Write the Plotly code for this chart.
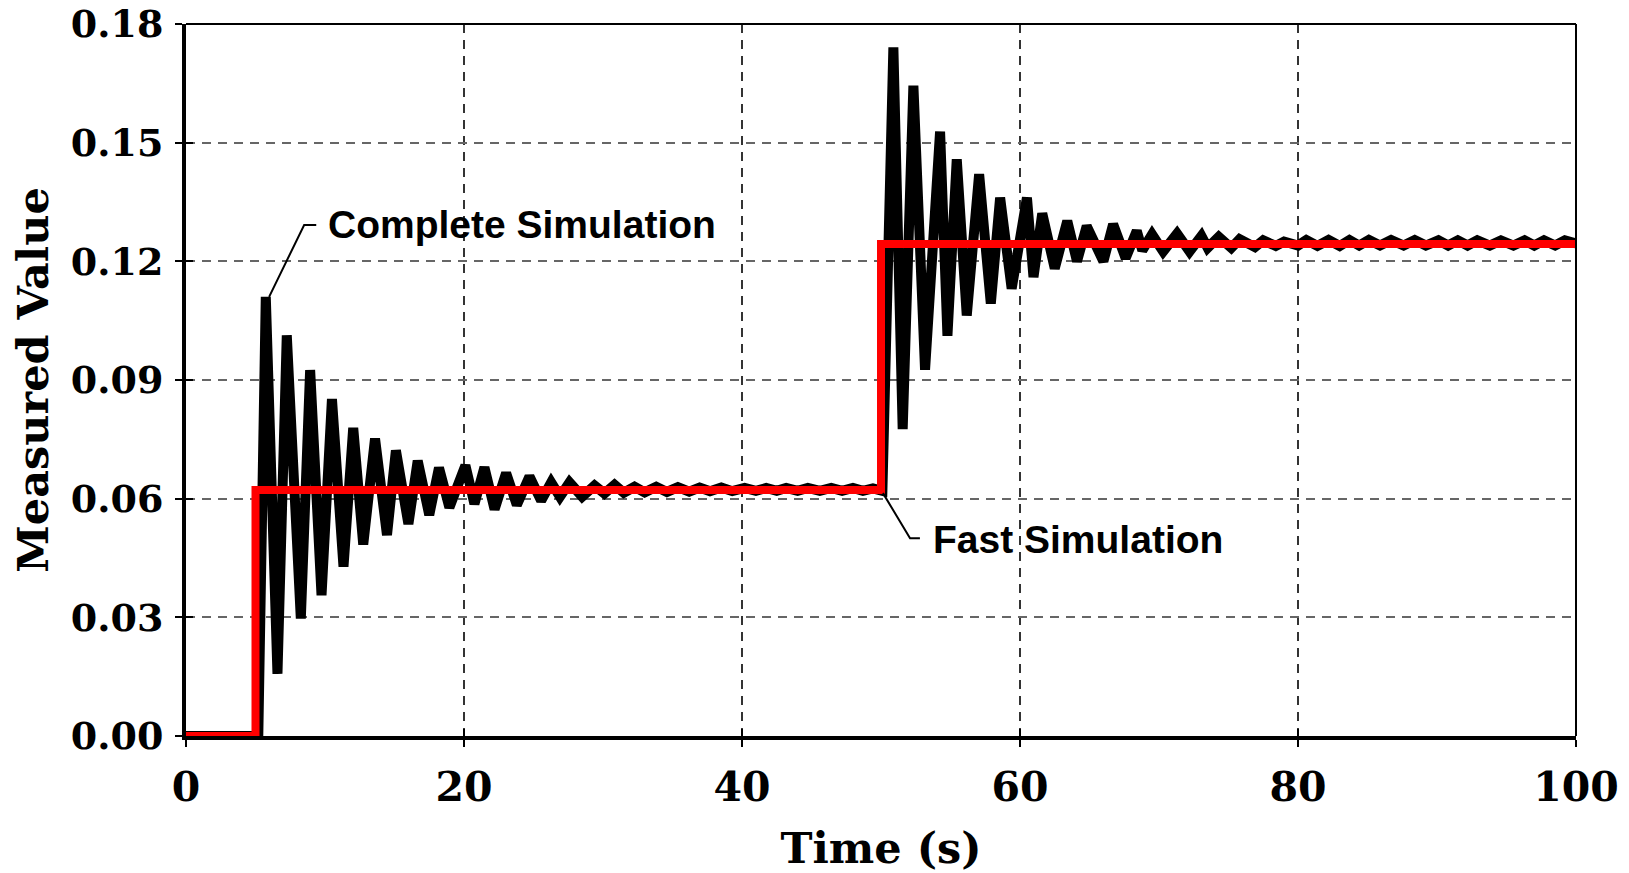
import plotly.graph_objects as go

# ---- data ----
complete_t = [0, 5.0, 5.2, 5.74, 6.58, 7.25, 8.26, 8.93, 9.75, 10.5, 11.33, 12.03, 12.75, 13.6, 14.46,
              15.1, 16.0, 16.67, 17.5, 18.2, 18.95, 20.1, 20.75, 21.47, 22.2, 23.03, 23.8, 24.71,
              25.55, 26.27, 26.9, 27.59, 28.5, 29.39, 30.1, 30.83, 31.5, 32.27, 33.0, 33.83, 34.6,
              35.39, 36.2, 36.95, 37.7, 38.51, 39.3, 40.19, 41.0, 41.74, 42.5, 43.18, 44.0, 44.74,
              45.6, 46.42, 47.2, 47.98, 48.7, 49.42, 50.1,
              50.89, 51.56, 52.33, 53.17, 54.25, 54.78, 55.45, 56.17, 57.06, 57.9, 58.57, 59.4,
              60.5, 60.97, 61.6, 62.5, 63.4, 64.1, 64.8, 66.0, 66.7, 67.6, 68.4, 68.8, 69.5, 70.3,
              71.3, 72.2, 73.05, 73.5, 74.3, 75.2, 75.8, 76.9, 77.5, 78.4, 79.0, 80.0, 80.6, 81.4,
              82.2, 83.0, 83.7, 84.4, 85.1, 85.9, 86.7, 87.6, 88.4, 89.2, 90.1, 90.8, 91.5, 92.2,
              92.9, 93.8, 94.6, 95.5, 96.3, 97.0, 97.7, 98.5, 99.2, 100.0]
complete_v = [0, 0, 0, 0.1110, 0.0157, 0.1013, 0.0297, 0.0925, 0.0356, 0.0852, 0.0428, 0.0779, 0.0484,
              0.0752, 0.0508, 0.0722, 0.0536, 0.0696, 0.0559, 0.0678, 0.0578, 0.0684, 0.0587, 0.0679,
              0.0573, 0.0665, 0.0584, 0.0656, 0.0595, 0.0641, 0.0605, 0.0641, 0.0605, 0.0633, 0.0613,
              0.0635, 0.0615, 0.0630, 0.0616, 0.0630, 0.0617, 0.0629, 0.0618, 0.0628, 0.0619, 0.0628,
              0.0619, 0.0627, 0.0620, 0.0627, 0.0620, 0.0627, 0.0620, 0.0627, 0.0620, 0.0627, 0.0620,
              0.0627, 0.0620, 0.0626, 0.0620,
              0.1741, 0.0776, 0.1644, 0.0926, 0.1528, 0.1012, 0.1458, 0.1063, 0.1420, 0.1093, 0.1361,
              0.1131, 0.1361, 0.1160, 0.1321, 0.1182, 0.1302, 0.1200, 0.1289, 0.1200, 0.1294, 0.1208,
              0.1277, 0.1228, 0.1268, 0.1225, 0.1270, 0.1225, 0.1264, 0.1234, 0.1262, 0.1234, 0.1256,
              0.1236, 0.1253, 0.1239, 0.1250, 0.1240, 0.1254, 0.1239, 0.1254, 0.1239, 0.1254, 0.1240,
              0.1254, 0.1240, 0.1254, 0.1240, 0.1254, 0.1240, 0.1253, 0.1240, 0.1253, 0.1240, 0.1253,
              0.1240, 0.1253, 0.1240, 0.1253, 0.1240, 0.1253, 0.1240, 0.1253, 0.1245]

fast_t = [0, 5, 50, 100]
fast_v = [0, 0.0622, 0.1244, 0.1244]

x_ticks = [0, 20, 40, 60, 80, 100]
y_ticks = [0.00, 0.03, 0.06, 0.09, 0.12, 0.15, 0.18]
y_tick_labels = ["0.00", "0.03", "0.06", "0.09", "0.12", "0.15", "0.18"]

# annotation anchors: (leader start, bend, end, text position)
complete_label = "Complete Simulation"
complete_leader_x = [5.98, 8.5, 9.37]
complete_leader_y = [0.1110, 0.1292, 0.1292]
complete_text_xy = (10.1, 0.1292)

fast_label = "Fast Simulation"
fast_leader_x = [50.14, 52.09, 52.8]
fast_leader_y = [0.0614, 0.0500, 0.0500]
fast_text_xy = (53.6, 0.0497)

SERIF = "DejaVu Serif"
SANS = "Liberation Sans, Arial"

fig = go.Figure()
fig.add_trace(go.Scatter(x=complete_t, y=complete_v, mode="lines",
                         line=dict(color="black", width=10), showlegend=False,
                         name="Complete Simulation"))
fig.add_trace(go.Scatter(x=fast_t, y=fast_v, mode="lines", line_shape="hv",
                         line=dict(color="#ff0000", width=8), showlegend=False,
                         name="Fast Simulation"))
# dummy trace for inner tick axes
fig.add_trace(go.Scatter(x=[None], y=[None], xaxis="x2", yaxis="y2", showlegend=False,
                         hoverinfo="skip"))

# leader lines
for lx, ly in [(complete_leader_x, complete_leader_y), (fast_leader_x, fast_leader_y)]:
    path = "M {} {} L {} {} L {} {}".format(lx[0], ly[0], lx[1], ly[1], lx[2], ly[2])
    fig.add_shape(type="path", path=path, xref="x", yref="y",
                  line=dict(color="black", width=2), layer="above")

fig.add_annotation(x=complete_text_xy[0], y=complete_text_xy[1], text="<b>" + complete_label + "</b>",
                   showarrow=False, xanchor="left", yanchor="middle",
                   font=dict(family=SANS, size=39, color="black"))
fig.add_annotation(x=fast_text_xy[0], y=fast_text_xy[1], text="<b>" + fast_label + "</b>",
                   showarrow=False, xanchor="left", yanchor="middle",
                   font=dict(family=SANS, size=39, color="black"))

# top & right border (thinner)
fig.add_shape(type="line", xref="paper", yref="paper", x0=0, x1=1, y0=1, y1=1,
              line=dict(color="black", width=2), layer="above")
fig.add_shape(type="line", xref="paper", yref="paper", x0=1, x1=1, y0=0, y1=1,
              line=dict(color="black", width=2), layer="above")

fig.update_layout(
    width=1629, height=873,
    margin=dict(l=186, r=53, t=24, b=137, autoexpand=False),
    paper_bgcolor="white", plot_bgcolor="white",
    xaxis=dict(range=[0, 100], tickvals=x_ticks, ticktext=[str(v) for v in x_ticks],
               showline=True, linewidth=4, linecolor="black", automargin=False,
               ticks="outside", ticklen=7, tickwidth=2, tickcolor="black",
               showgrid=True, gridcolor="#333333", gridwidth=1.5, griddash="9px,7px",
               zeroline=False, ticklabelstandoff=5, ticklabeloverflow="allow",
               tickfont=dict(family=SERIF, size=41, color="black", weight="bold"),
               title=dict(text="<b>Time (s)</b>", standoff=25,
                          font=dict(family=SERIF, size=43, color="black"))),
    yaxis=dict(range=[0, 0.18], tickvals=y_ticks, ticktext=y_tick_labels,
               showline=True, linewidth=4, linecolor="black", automargin=False,
               ticks="outside", ticklen=7, tickwidth=2, tickcolor="black",
               showgrid=True, gridcolor="#666666", gridwidth=1.5, griddash="9px,7px",
               zeroline=False, ticklabelstandoff=4, ticklabeloverflow="allow",
               tickfont=dict(family=SERIF, size=38, color="black", weight="bold"),
               title=dict(text="<b>Measured Value</b>", standoff=10,
                          font=dict(family=SERIF, size=43, color="black"))),
    xaxis2=dict(range=[0, 100], overlaying="x", anchor="y2", side="bottom",
                tickvals=x_ticks, ticks="inside", ticklen=7, tickwidth=2, tickcolor="black",
                showticklabels=False, showgrid=False, showline=False, zeroline=False),
    yaxis2=dict(range=[0, 0.18], overlaying="y", anchor="x2", side="left",
                tickvals=y_ticks, ticks="inside", ticklen=7, tickwidth=2, tickcolor="black",
                showticklabels=False, showgrid=False, showline=False, zeroline=False),
)

fig.write_html("out.html", config={"displayModeBar": False},
               post_script="document.body.style.margin='0';document.body.style.overflow='hidden';")
